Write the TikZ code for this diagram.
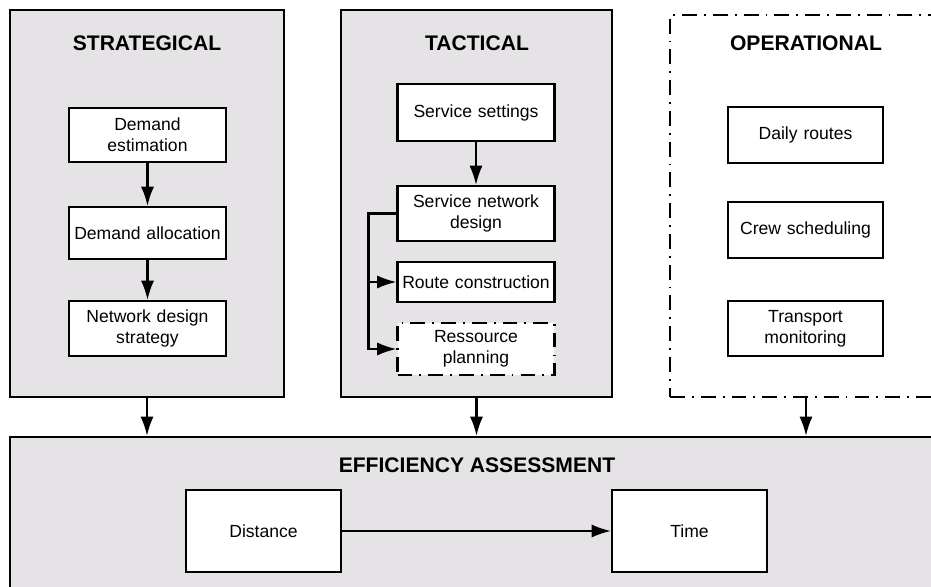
\documentclass[tikz,border=0pt]{standalone}
\usepackage{fontspec}
\setmainfont{Liberation Sans}
\usetikzlibrary{arrows.meta}
\definecolor{panelgray}{RGB}{230,227,230}

\begin{document}
\begin{tikzpicture}[x=0.02cm, y=-0.02cm,
	panel/.style={draw, line width=1.3pt, fill=panelgray, minimum width=5.48cm, minimum height=7.74cm, inner sep=0},
	box/.style={draw, line width=1.2pt, fill=white, minimum width=3.14cm, text width=3cm, align=center, inner sep=0, font=\fontsize{10}{12}\selectfont},
	title/.style={font=\bfseries\fontsize{12}{14}\selectfont},
	dashdot/.style={dash pattern=on 8.5pt off 4pt on 1pt off 4pt},
	arr/.style={line width=1.2pt, -{Latex[length=11pt,width=7.5pt]}}]
\useasboundingbox (0,0) rectangle (931,587);
\clip (0,0) rectangle (931,587);

% the three planning levels
\node[panel] (strat) at (147,203.5) {};
\node[panel, minimum width=5.42cm] (tact) at (476.5,203.5) {};
\node[panel, fill=none, dashdot, minimum width=6.6cm, minimum height=7.64cm] (oper) at (835,206) {};

\node[title] (stratTitle) at (147,43) {STRATEGICAL};
\node[title] (tactTitle) at (477,43) {TACTICAL};
\node[title] (operTitle) at (806,43) {OPERATIONAL};

% strategical
\node[box, minimum height=1.08cm] (demEst) at (147.5,135) {Demand\\estimation};
\node[box, minimum height=1.04cm] (demAlloc) at (147.5,233) {Demand allocation};
\node[box, minimum height=1.1cm] (netStrat) at (147.5,328.5) {Network design\\strategy};
\draw[arr] (demEst) -- (demAlloc);
\draw[arr] (demAlloc) -- (netStrat);

% tactical
\node[box, minimum height=1.14cm] (servSet) at (476,112.5) {Service settings};
\node[box, minimum height=1.1cm] (servNet) at (476,213.5) {Service network\\design};
\node[box, minimum height=0.8cm] (route) at (476,282) {Route construction};
\node[box, dashdot, minimum height=1.04cm] (ressource) at (476,349) {Ressource\\planning};
\draw[arr] (servSet) -- (servNet);
\draw[arr] (servNet.west) -- ++(-28,0) |- (route.west);
\draw[arr] (servNet.west) -- ++(-28,0) |- (ressource.west);

% operational
\node[box, minimum width=3.1cm, minimum height=1.12cm] (daily) at (805.5,135) {Daily routes};
\node[box, minimum width=3.1cm, minimum height=1.12cm] (crew) at (805.5,230) {Crew scheduling};
\node[box, minimum width=3.1cm, minimum height=1.1cm] (monitor) at (805.5,328.5) {Transport\\monitoring};

% efficiency assessment
\node[panel, minimum width=22cm, minimum height=3.66cm] (eff) at (560,528.5) {};
\node[title] (effTitle) at (477,465) {EFFICIENCY ASSESSMENT};
\node[box, minimum width=3.1cm, minimum height=1.64cm] (dist) at (263.5,531) {Distance};
\node[box, minimum width=3.1cm, minimum height=1.64cm] (time) at (689.5,531) {Time};
\draw[arr] (dist) -- (time);

\draw[arr] (strat.south) -- (strat.south |- eff.north);
\draw[arr] (tact.south) -- (tact.south |- eff.north);
\draw[arr] (operTitle |- oper.south) -- (operTitle |- eff.north);
\end{tikzpicture}
\end{document}
